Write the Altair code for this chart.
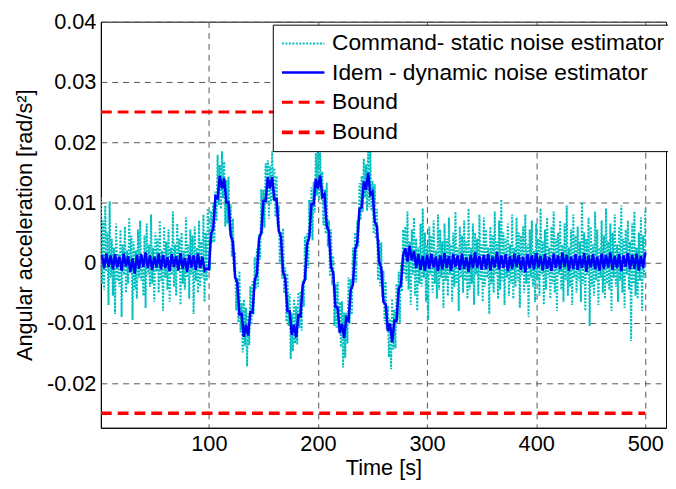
import altair as alt
import pandas as pd

# ---- data (accelerations listed in units of 1e-3 rad/s^2) ----
unit = 0.001
static_step = 1   # s between samples of the static-estimator command
dyn_step = 2      # s between samples of the dynamic-estimator command
static_starts = [1, 100, 280]
dyn_starts = [2, 100, 280]

static_pre = [10.8, -3.5, 7.0, -4.5, 9.5, -1.5, 5.0, -7.0, 10.2, -2.5,
              4.0, -5.5, 2.5, -8.5, 6.5, -3.0, 1.5, -4.0, 5.5, -9.0,
              3.0, -2.0, 6.0, -5.0, 2.0, -3.5, 7.5, -1.0, 4.5, -9.5,
              3.5, -4.5, 2.0, -6.0, 5.5, -2.5, 7.0, -3.0, 1.0, -5.5,
              4.5, -7.5, 6.5, -2.0, 3.0, -4.0, 8.0, -3.5, 2.5, -6.5,
              5.0, -1.5, 4.0, -5.0, 7.0, -3.0, 2.0, -8.0, 6.0, -2.5,
              3.5, -4.5, 5.5, -6.5, 2.5, -2.0, 8.5, -4.0, 3.0, -5.5,
              6.5, -1.0, 4.0, -7.0, 5.0, -3.5, 2.0, -4.5, 7.5, -2.5,
              3.0, -6.0, 5.5, -2.0, 4.5, -8.5, 6.0, -3.0, 2.5, -5.0,
              7.0, -4.0, 3.5, -2.5, 8.0, -6.5, 5.0, -3.0, 9.0]
static_osc = [4.1, -1.2, 8.6, 3.3, 9.9, 3.4, 11.8, 6.9, 17.9, 9.6,
              16.2, 8.9, 18.5, 10.7, 16.8, 6.0, 13.7, 6.5, 14.3, 5.3,
              9.7, 1.0, 7.3, -1.5, 1.8, -7.9, -2.5, -9.9, -1.4, -11.6,
              -6.7, -14.9, -6.1, -13.8, -7.5, -17.2, -8.4, -13.7, -3.9, -10.3,
              -3.1, -8.6, 0.9, -4.4, 2.3, -4.0, 4.8, 0.5, 12.2, 4.7,
              12.1, 5.8, 16.5, 9.8, 17.0, 7.3, 16.0, 9.8, 18.5, 10.4,
              15.7, 7.6, 14.4, 6.0, 9.5, -0.2, 5.2, -2.6, 5.7, -5.1,
              -0.8, -9.8, -1.8, -10.5, -5.2, -16.0, -8.3, -14.7, -6.0, -13.4,
              -7.2, -13.6, -4.9, -10.8, -4.7, -11.3, -2.9, -7.3, 4.4, -2.9,
              4.9, -0.9, 10.4, 4.5, 12.5, 3.7, 13.4, 8.3, 18.2, 11.1,
              20.0, 10.4, 18.3, 10.7, 15.1, 6.2, 12.2, 4.8, 13.3, 2.7,
              7.0, -2.3, 5.5, -3.7, 1.1, -10.5, -3.6, -10.9, -3.2, -11.6,
              -6.5, -14.0, -6.4, -17.4, -8.3, -15.8, -8.3, -13.4, -2.4, -10.1,
              -2.7, -8.6, 2.5, -3.3, 5.0, -3.3, 7.0, 2.6, 13.2, 7.1,
              14.4, 8.4, 17.3, 10.8, 16.3, 8.6, 19.9, 9.2, 18.5, 8.6,
              13.6, 4.8, 13.0, 4.0, 8.9, -2.9, 3.9, -3.9, 3.4, -5.7,
              -1.3, -9.7, -3.1, -11.1, -7.1, -15.7, -9.3, -17.7, -6.0, -14.4,
              -7.8, -14.2, -3.5, -9.5, -1.5, -10.0, 0.0, -4.8, 5.5, -2.0]
static_post = [6.0, -3.0, 8.5, -4.5, 3.5, -7.0, 5.5, -2.0, 7.5, -5.5,
               4.0, -8.0, 2.5, -3.5, 6.5, -4.0, 9.0, -2.5, 5.0, -6.5,
               3.0, -9.5, 6.0, -2.0, 4.5, -5.0, 7.0, -3.5, 2.0, -6.0,
               8.0, -4.5, 5.5, -2.5, 3.5, -7.5, 6.5, -3.0, 4.0, -5.5,
               7.5, -2.0, 3.0, -6.5, 5.0, -4.0, 8.5, -3.5, 2.5, -8.0,
               6.0, -2.5, 4.5, -5.0, 7.0, -3.0, 3.5, -6.0, 9.0, -4.5,
               2.5, -3.5, 6.5, -7.0, 5.0, -2.0, 4.0, -5.5, 8.0, -3.0,
               3.0, -6.5, 7.5, -4.0, 5.5, -2.5, 2.5, -8.5, 6.0, -3.5,
               4.5, -5.0, 8.5, -2.0, 3.5, -6.0, 7.0, -4.5, 10.5, -3.0,
               5.0, -7.0, 4.0, -2.5, 6.5, -5.5, 3.0, -3.5, 8.0, -6.0,
               2.5, -4.0, 7.5, -3.0, 5.0, -7.5, 4.5, -2.0, 6.0, -5.0,
               8.0, -3.5, 3.0, -9.0, 5.5, -2.5, 7.0, -4.0, 2.0, -6.5,
               6.5, -3.0, 4.0, -5.5, 9.0, -2.0, 3.5, -7.0, 5.5, -4.5,
               7.5, -2.5, 2.5, -6.0, 6.0, -3.5, 8.5, -5.0, 4.0, -8.0,
               5.0, -2.0, 7.0, -4.5, 3.0, -6.5, 6.5, -3.0, 9.5, -5.5,
               2.5, -4.0, 5.5, -7.0, 8.0, -2.5, 4.5, -5.0, 6.0, -3.0,
               3.5, -6.5, 10.0, -3.5, 5.0, -8.0, 4.0, -2.0, 7.5, -10.5,
               6.0, -4.0, 3.0, -5.5, 8.5, -3.0, 5.5, -7.0, 2.5, -2.5,
               7.0, -5.0, 4.5, -6.0, 9.0, -3.5, 3.5, -4.5, 6.5, -8.0,
               5.0, -2.5, 8.0, -4.0, 3.0, -6.5, 6.0, -3.0, 9.5, -5.0,
               4.0, -7.5, 5.5, -2.0, 7.0, -4.5, 3.5, -13.0, 6.5, -3.5,
               8.5, -5.5, 2.5, -6.0, 5.0, -3.0, 7.5, -8.0, 4.5, -2.5,
               9.0]

dyn_pre = [1.3, -0.9, 1.5, -0.7, 1.2, -1.1, 1.4, -0.8, 1.0, -1.3,
           1.5, -0.6, 1.1, -1.6, 0.7, -1.8, 1.3, -1.0, 1.4, -0.7,
           1.7, -0.9, 1.2, -1.2, 1.0, -0.8, 1.5, -1.1, 1.3, -0.9,
           0.9, -1.4, 1.4, -0.7, 1.1, -1.3, 1.6, -1.0, 0.8, -1.5,
           1.3, -0.8, 1.2, -1.2, 1.5, -0.9, 1.0, -1.3, -1.0]
dyn_osc = [-1.1, 4.8, 5.7, 11.0, 10.7, 14.4, 12.3, 14.0, 10.0, 10.0,
           4.5, 3.5, -2.4, -3.3, -8.6, -8.5, -12.3, -10.3, -12.1, -8.2,
           -8.3, -2.9, -1.9, 4.0, 5.0, 10.3, 10.3, 14.2, 12.3, 14.2,
           10.5, 10.6, 5.3, 4.4, -1.5, -2.6, -8.0, -8.0, -12.0, -10.3,
           -12.4, -8.7, -8.9, -3.7, -2.8, 3.1, 4.2, 9.7, 9.7, 13.9,
           12.3, 14.5, 10.9, 11.4, 6.1, 5.2, -0.7, -1.7, -7.3, -7.5,
           -11.7, -10.2, -12.5, -9.1, -9.6, -4.5, -3.7, 2.2, 3.3, 8.9,
           9.2, 13.5, 12.1, 14.9, 11.3, 11.8, 6.8, 6.1, 0.2, -0.9,
           -6.5, -6.9, -11.3, -10.1, -13.2, -9.6, -9.7, -4.3, -3.7, 1.2]
dyn_post = [2.4, 0.2, 2.8, 0.4, 1.9, -0.9, 1.4, -1.2, 1.1, -1.3,
            1.3, -1.0, 1.5, -0.8, 1.0, -1.4, 1.2, -1.1, 1.6, -0.9,
            1.1, -1.3, 1.4, -0.7, 1.2, -1.2, 1.5, -1.0, 0.9, -1.5,
            1.3, -0.9, 1.7, -0.8, 1.1, -1.2, 1.3, -1.0, 1.4, -1.3,
            1.0, -0.8, 1.8, -1.1, 1.2, -0.9, 1.4, -1.4, 1.1, -1.0,
            1.5, -0.7, 1.3, -1.2, 1.0, -1.6, 1.4, -0.9, 1.2, -1.1,
            1.6, -0.8, 1.1, -1.3, 1.4, -1.0, 0.9, -1.4, 1.5, -0.9,
            1.2, -1.1, 1.7, -0.7, 1.3, -1.3, 1.0, -1.0, 1.4, -1.2,
            1.1, -0.9, 1.6, -1.5, 1.2, -0.8, 1.4, -1.1, 1.0, -1.3,
            1.5, -1.0, 1.3, -0.8, 1.7, -1.2, 1.1, -0.9, 1.4, -1.4,
            1.2, -0.7, 1.6, -1.1, 1.3, -1.0, 1.5, -1.3, 1.1, -0.9,
            1.7]

bound_upper = 0.025
bound_lower = -0.025
bound_t = [1, 500]

series_names = ["Command- static noise estimator", "Idem - dynamic noise estimator",
                "Bound", "Bound "]
series_colors = ["#00BFBF", "#0000FF", "#FF0000", "#FF0000"]
series_dash = [[2, 1.5], [1, 0], [11, 6], [11, 6]]
series_width = [2.0, 3.6, 4.0, 4.0]

x_ticks = [100, 200, 300, 400, 500]
y_ticks = [-0.02, -0.01, 0, 0.01, 0.02, 0.03, 0.04]

# ---- table ----
rows = []
def add(name, start, step, vals):
    for i, v in enumerate(vals):
        rows.append({"t": start + step * i, "a": v * unit, "series": name})

for start, vals in zip(static_starts, [static_pre, static_osc, static_post]):
    add(series_names[0], start, static_step, vals)
for start, vals in zip(dyn_starts, [dyn_pre, dyn_osc, dyn_post]):
    add(series_names[1], start, dyn_step, vals)
for t in bound_t:
    rows.append({"t": t, "a": bound_upper, "series": series_names[2]})
for t in bound_t:
    rows.append({"t": t, "a": bound_lower, "series": series_names[3]})
df = pd.DataFrame(rows)

FONT = "Arial, Liberation Sans, Helvetica, sans-serif"

leg = alt.Legend(title=None)

chart = alt.Chart(df).mark_line(clip=True).encode(
    x=alt.X("t:Q",
            scale=alt.Scale(domain=[1, 519], nice=False, zero=False),
            axis=alt.Axis(values=x_ticks, title="Time [s]", labelPadding=6,
                          titleX=286, titleY=40, titleBaseline="middle")),
    y=alt.Y("a:Q",
            scale=alt.Scale(domain=[-0.0274, 0.04], nice=False, zero=False),
            axis=alt.Axis(values=y_ticks, title="Angular acceleration [rad/s²]",
                          labelPadding=5, titleX=-77, titleY=205.5,
                          titleBaseline="middle",
                          labelExpr="datum.value == 0 ? '0' : (datum.value < 0 ? '-' + format(-datum.value, '.2f') : format(datum.value, '.2f'))")),
    color=alt.Color("series:N", scale=alt.Scale(domain=series_names, range=series_colors), legend=leg),
    strokeDash=alt.StrokeDash("series:N", scale=alt.Scale(domain=series_names, range=series_dash), legend=leg),
    strokeWidth=alt.StrokeWidth("series:N", scale=alt.Scale(domain=series_names, range=series_width), legend=leg),
    order=alt.Order("t:Q"),
).properties(
    width=572, height=411,
    autosize=alt.AutoSizeParams(type="none"),
    padding={"left": 94, "top": 11, "right": 2, "bottom": 51},
).configure_view(
    stroke="black", strokeWidth=1
).configure_axis(
    domain=True, domainColor="black", domainWidth=1,
    ticks=False,
    labelFont=FONT, labelFontSize=22, labelColor="black",
    titleFont=FONT, titleFontSize=22, titleFontWeight="normal", titleColor="black",
    grid=True, gridColor="#555555", gridDash=[6, 5], gridWidth=1, gridOpacity=1,
).configure_legend(
    orient="none", legendX=174, legendY=3,
    strokeColor="black", fillColor="white", padding=7, cornerRadius=0,
    labelFont=FONT, labelFontSize=23, labelColor="black", labelLimit=0,
    symbolType="M-1,0H3", symbolSize=462, labelOffset=27,
    rowPadding=5,
)

chart.save("out.html", embed_options={"renderer": "svg", "actions": False})
